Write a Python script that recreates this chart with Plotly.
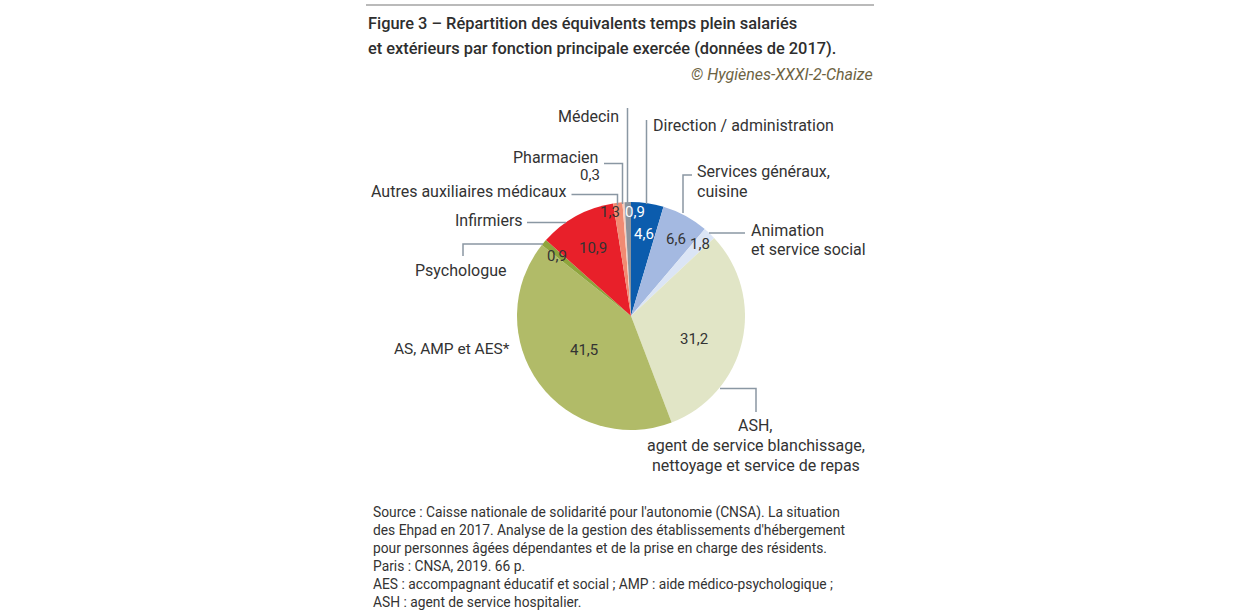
import plotly.graph_objects as go

labels = ["Direction / administration", "Services généraux, cuisine", "Animation et service social",
          "ASH", "AS, AMP et AES*", "Psychologue", "Infirmiers", "Autres auxiliaires médicaux",
          "Pharmacien", "Médecin"]
values = [4.6, 6.6, 1.8, 31.2, 41.5, 0.9, 10.9, 1.3, 0.3, 0.9]
value_text = ["4,6", "6,6", "1,8", "31,2", "41,5", "0,9", "10,9", "1,3", "0,3", "0,9"]
colors = ["#0b5cad", "#a4b9e1", "#dbe5f5", "#e1e5c6", "#b1bb68", "#8ea43c", "#e8202a",
          "#f18a72", "#f9cdbd", "#8c939c"]
title_lines = ["Figure 3 – Répartition des équivalents temps plein salariés",
               "et extérieurs par fonction principale exercée (données de 2017)."]

W, H = 1240, 612
cx, cy, R = 631, 316, 114

def px(x):
    return x / W

def py(y):
    return 1 - y / H

FONT = "Roboto, Arial, sans-serif"
TXT = "#333333"
LINE = "#8a97a3"

fig = go.Figure(go.Pie(
    labels=labels, values=values, sort=False, direction="clockwise", rotation=0,
    marker=dict(colors=colors, line=dict(width=0)),
    textinfo="none", hoverinfo="label+value", showlegend=False,
    domain=dict(x=[px(cx - R), px(cx + R)], y=[py(cy + R), py(cy - R)]),
))

ann = []
def text(x, y, s, anchor="left", size=16, color=TXT, **kw):
    ann.append(dict(x=px(x), y=py(y), xref="paper", yref="paper", text=s, showarrow=False,
                    xanchor=anchor, yanchor="middle", font=dict(family=FONT, size=size, color=color), **kw))

# value labels (positions beside their slices)
label_pos = [(644, 234, "white"), (676, 239, TXT), (700, 244, TXT), (694, 339, TXT), (584, 350, TXT),
             (557, 256, TXT), (593, 248, TXT), (610, 212, TXT), (590, 175, TXT), (635, 212, "white")]
for s, (x, y, c) in zip(value_text, label_pos):
    text(x, y, s, anchor="center", size=15, color=c)

# category labels
text(621, 116, "Médecin", anchor="right")
text(651, 126, "Direction / administration")
text(695, 171, "Services généraux,")
text(695, 191, "cuisine")
text(749, 230, "Animation")
text(749, 249, "et service social")
text(756, 425, "ASH,", anchor="center")
text(756, 445, "agent de service blanchissage,", anchor="center")
text(756, 465, "nettoyage et service de repas", anchor="center")
text(512, 349, "AS, AMP et AES*", anchor="right", size=15.5)
text(508, 270, "Psychologue", anchor="right")
text(525, 220, "Infirmiers", anchor="right")
text(568, 191, "Autres auxiliaires médicaux", anchor="right")
text(600, 157, "Pharmacien", anchor="right")

# title
for i, line in enumerate(title_lines):
    ann.append(dict(x=px(366), y=py(24 + 25 * i), xref="paper", yref="paper", showarrow=False,
                    xanchor="left", yanchor="middle", align="left", text=line,
                    font=dict(family=FONT, size=16.4, color="#2e2e2e", weight=500)))
ann.append(dict(x=px(875), y=py(74), xref="paper", yref="paper", showarrow=False,
                xanchor="right", yanchor="middle",
                text="<i>© Hygiènes-XXXI-2-Chaize</i>",
                font=dict(family=FONT, size=16, color="#6d6343")))

# source
ann.append(dict(x=px(371), y=py(557), xref="paper", yref="paper", showarrow=False,
                xanchor="left", yanchor="middle", align="left",
                text=("Source : Caisse nationale de solidarité pour l'autonomie (CNSA). La situation<br>"
                      "des Ehpad en 2017. Analyse de la gestion des établissements d'hébergement<br>"
                      "pour personnes âgées dépendantes et de la prise en charge des résidents.<br>"
                      "Paris : CNSA, 2019. 66 p.<br>"
                      "AES : accompagnant éducatif et social ; AMP : aide médico-psychologique ;<br>"
                      "ASH : agent de service hospitalier."),
                font=dict(family=FONT, size=13.8, color=TXT)))

shapes = []
def path(pts, color=LINE, width=1.5):
    d = "M " + " L ".join(f"{px(x)},{py(y)}" for x, y in pts)
    shapes.append(dict(type="path", path=d, xref="paper", yref="paper",
                       line=dict(color=color, width=width)))

path([(366, 5), (874, 5)], color="#777777", width=1.2)
path([(627.5, 108), (627.5, 204)])
path([(646.5, 120), (646.5, 204)])
path([(692, 175), (683, 175), (683, 213)])
path([(709, 233), (745, 233)])
path([(604, 163.5), (622.5, 163.5), (622.5, 204)])
path([(571.5, 194.5), (617.5, 194.5), (617.5, 205)])
path([(527, 222.5), (566, 222.5)])
path([(463, 256), (463, 244), (543, 244)])
path([(720, 388.5), (756, 388.5), (756, 412)])

fig.update_layout(width=W, height=H, margin=dict(l=0, r=0, t=0, b=0),
                  paper_bgcolor="white", plot_bgcolor="white",
                  annotations=ann, shapes=shapes)
fig.write_html("out.html", config={"displayModeBar": False},
               post_script="document.body.style.margin='0';document.body.style.overflow='hidden';")
